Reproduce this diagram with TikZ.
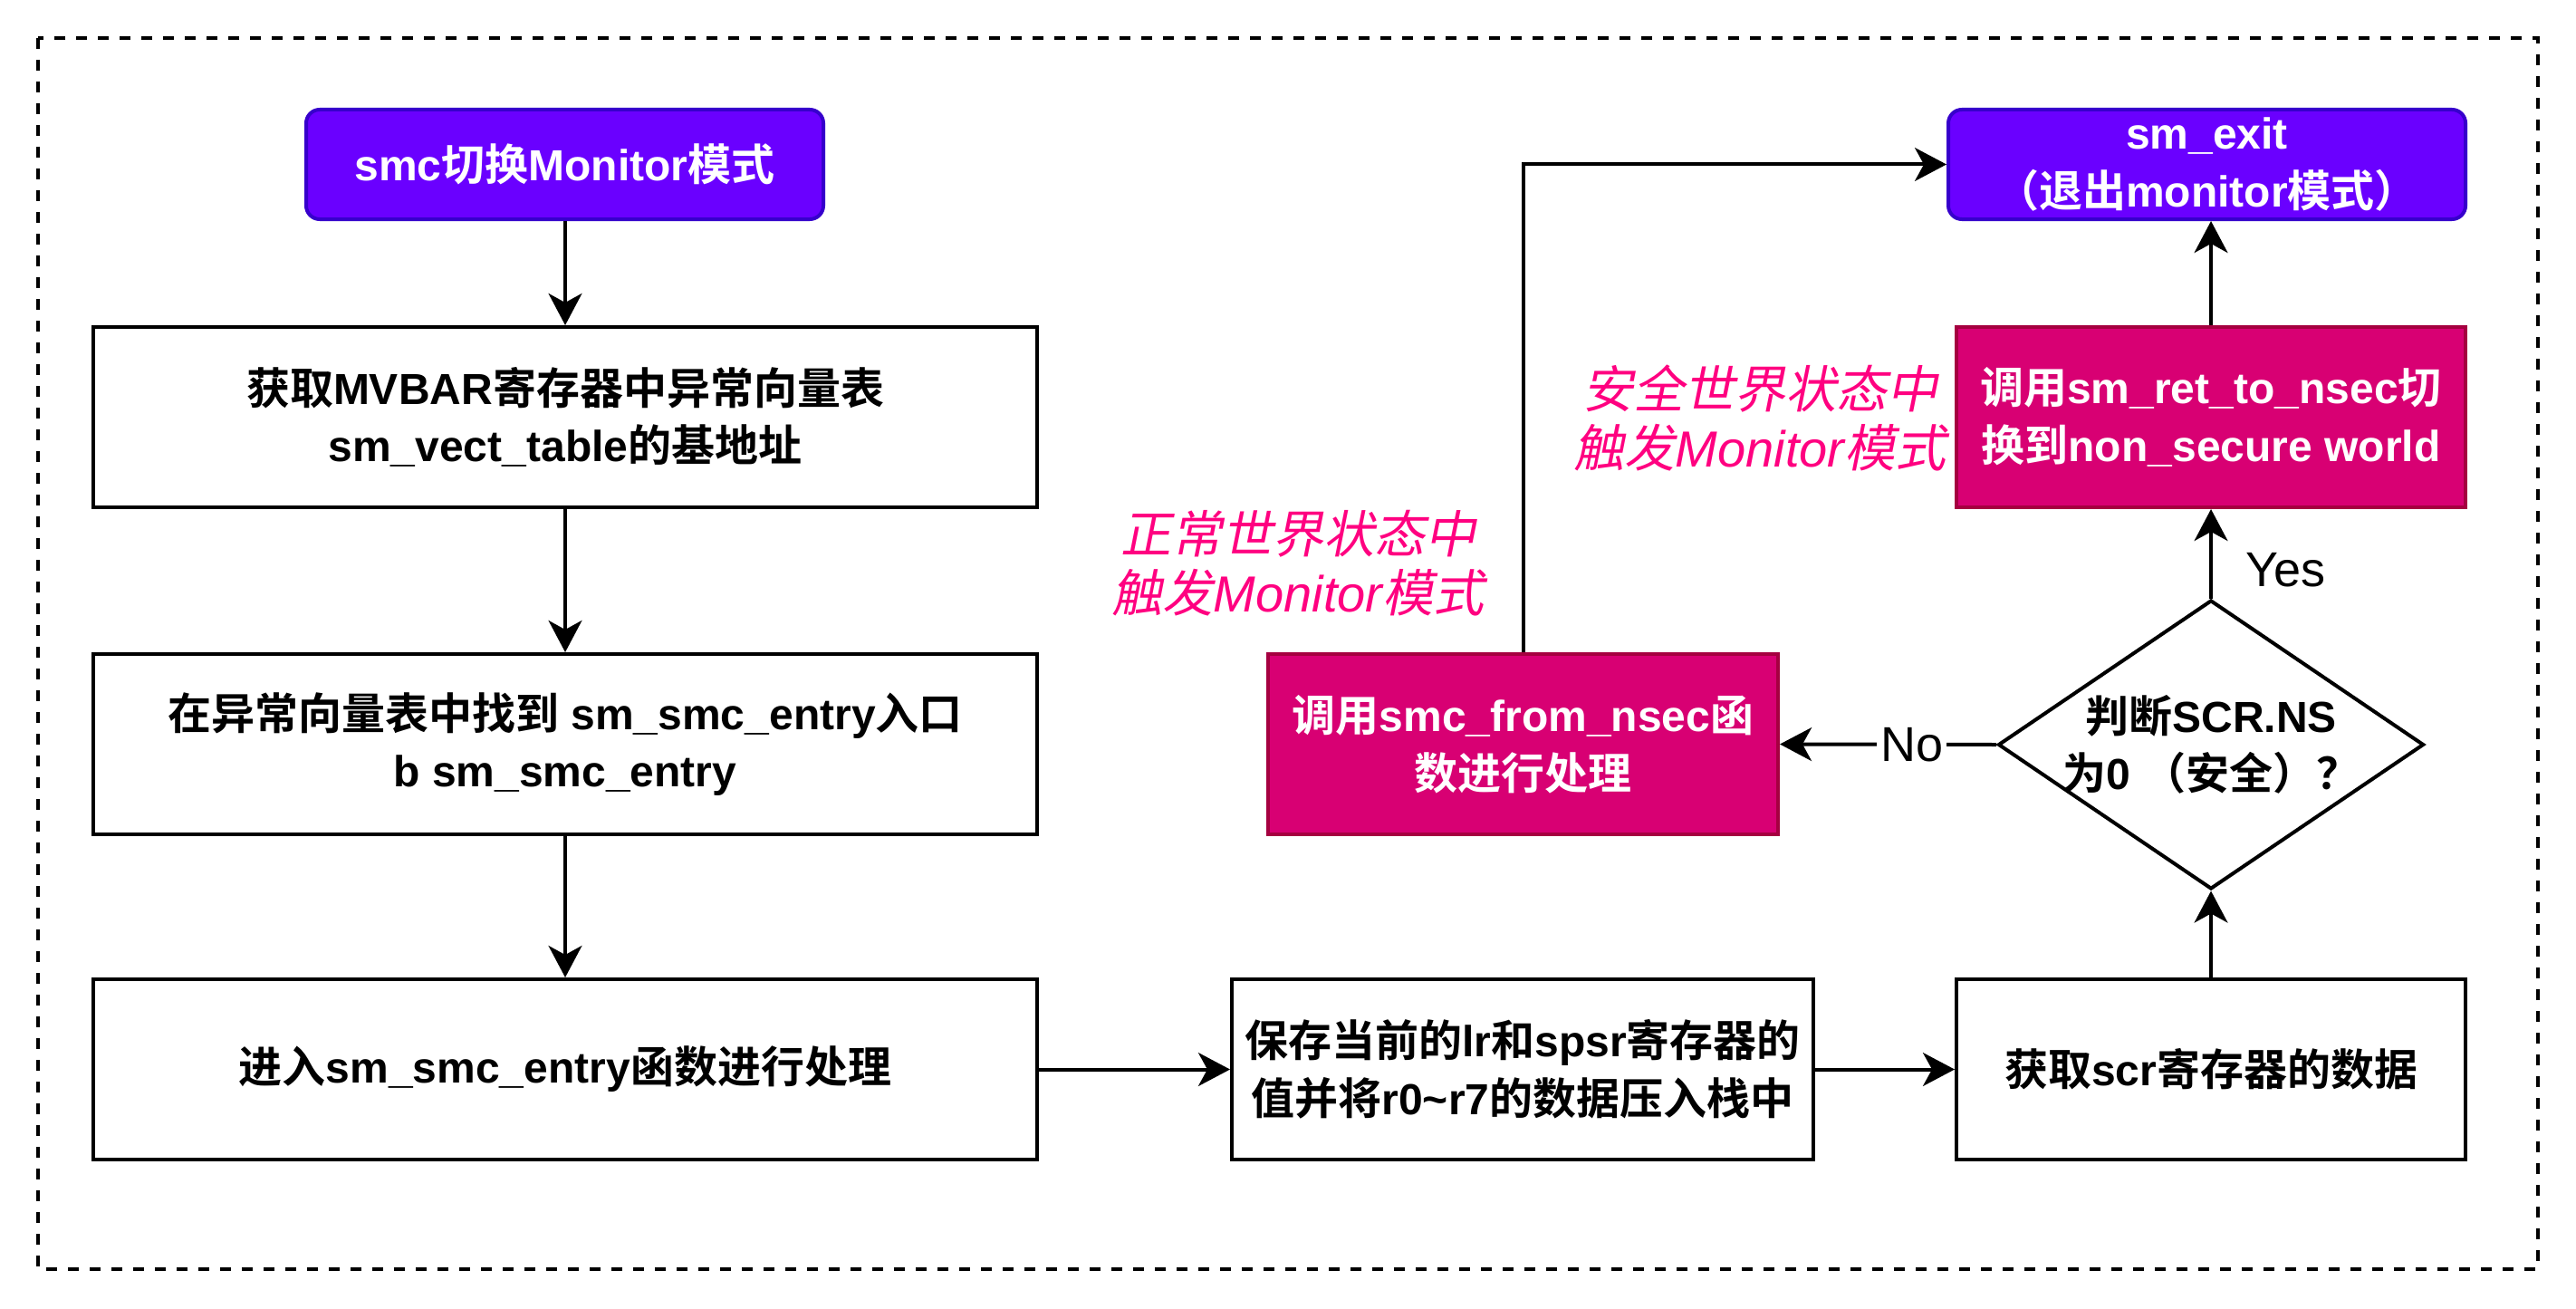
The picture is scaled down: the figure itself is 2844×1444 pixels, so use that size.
\documentclass[tikz,border=0pt]{standalone}
\usepackage{fontspec}
\setmainfont{Liberation Sans}
\newfontfamily\cjkfam{Noto Sans CJK SC}[BoldFont={* Bold}, ItalicFont={*}, ItalicFeatures={FakeSlant=0.2}, BoldItalicFont={* Bold}, BoldItalicFeatures={FakeSlant=0.2}]
\usetikzlibrary{shapes.geometric, arrows.meta}
\XeTeXinterchartokenstate=1
\newXeTeXintercharclass\cjkcls
\newcount\cjkc
\def\cjkrange#1#2{\cjkc=#1\relax
  \loop
    \XeTeXcharclass\cjkc=\cjkcls
    \ifnum\cjkc<#2\relax
    \advance\cjkc by 1
  \repeat}
\cjkrange{"4E00}{"9FFF}
\cjkrange{"3000}{"303F}
\cjkrange{"FF00}{"FFEF}
\XeTeXinterchartoks 0 \cjkcls = {\cjkfam}
\XeTeXinterchartoks 4095 \cjkcls = {\cjkfam}
\XeTeXinterchartoks \cjkcls 0 = {\rmfamily}
\XeTeXinterchartoks \cjkcls 4095 = {\rmfamily}
\definecolor{purp}{HTML}{6A00FF}
\definecolor{purpd}{HTML}{3700CC}
\definecolor{pinkf}{HTML}{D80073}
\definecolor{pinkd}{HTML}{A50040}
\definecolor{pinkt}{HTML}{FF0080}
\begin{document}
\begin{tikzpicture}[x=0.25pt, y=-0.25pt,
  box/.style={draw, line width=1pt, rectangle, align=center, inner sep=0pt,
    font=\bfseries\fontsize{12}{15.9}\selectfont},
  wide/.style={box, minimum width=260.5pt, minimum height=49.75pt},
  purpbox/.style={box, fill=purp, draw=purpd, text=white, rounded corners=3.75pt,
    minimum width=142.75pt, minimum height=30.25pt},
  pinkbox/.style={box, fill=pinkf, draw=pinkd, text=white, minimum height=49.75pt},
  arr/.style={line width=1pt, -{Stealth[length=8.75pt, width=9.2pt, inset=2.5pt]}},
  lbl/.style={font=\fontsize{13.5}{15}\selectfont, inner sep=1pt},
  note/.style={text=pinkt, align=center, font=\itshape\fontsize{14}{16.3}\selectfont}]
\useasboundingbox (0,0) rectangle (2844,1444);
\draw[line width=1pt, dash pattern=on 3pt off 3pt] (42,42) rectangle (2802,1401);

\node[purpbox] (A) at (623.5,181.5) {smc切换Monitor模式};
\node[wide] (B) at (624,460.5) {获取MVBAR寄存器中异常向量表\\sm\_vect\_table的基地址};
\node[wide] (C) at (624,821.5) {在异常向量表中找到 sm\_smc\_entry入口\\b sm\_smc\_entry};
\node[wide] (D) at (624,1180.5) {进入sm\_smc\_entry函数进行处理};
\node[box, minimum width=160.5pt, minimum height=49.75pt] (E) at (1681,1180.5) {保存当前的lr和spsr寄存器的\\值并将r0\textasciitilde r7的数据压入栈中};
\node[box, minimum width=140.5pt, minimum height=49.75pt] (F) at (2441,1180.5) {获取scr寄存器的数据};
\node[diamond, draw, line width=1pt, minimum width=117.5pt, minimum height=79.75pt, inner sep=0pt] (G) at (2441,822) {};
\node[align=center, font=\bfseries\fontsize{12}{15.9}\selectfont] (Gt) at (2441,822) {判断SCR.NS\\为0 （安全）？};
\node[pinkbox, minimum width=140.75pt] (H) at (1681.5,821.5) {调用smc\_from\_nsec函\\数进行处理};
\node[pinkbox, minimum width=140.5pt] (I) at (2441,460.5) {调用sm\_ret\_to\_nsec切\\换到non\_secure world};
\node[purpbox] (J) at (2436.5,181.5) {sm\_exit\\（退出monitor模式）};

\node[note] (N1) at (1433,622) {正常世界状态中\\触发Monitor模式};
\node[note] (N2) at (1943,461.5) {安全世界状态中\\触发Monitor模式};

\draw[arr] (A.south -| B.north) -- (B.north);
\draw[arr] (B) -- (C);
\draw[arr] (C) -- (D);
\draw[arr] (D) -- (E);
\draw[arr] (E) -- (F);
\draw[arr] (F.north) -- (G.south);
\draw[arr] (G.west) -- node[lbl, pos=0.39, fill=white] (No) {No} (H.east);
\draw[arr] (G.north) -- node[lbl, pos=0.32, anchor=west, xshift=8pt] (Yes) {Yes} (I.south);
\draw[arr] (I.north) -- (I.north |- J.south);
\draw[arr] (H.north) |- (J.west);
\end{tikzpicture}
\end{document}
